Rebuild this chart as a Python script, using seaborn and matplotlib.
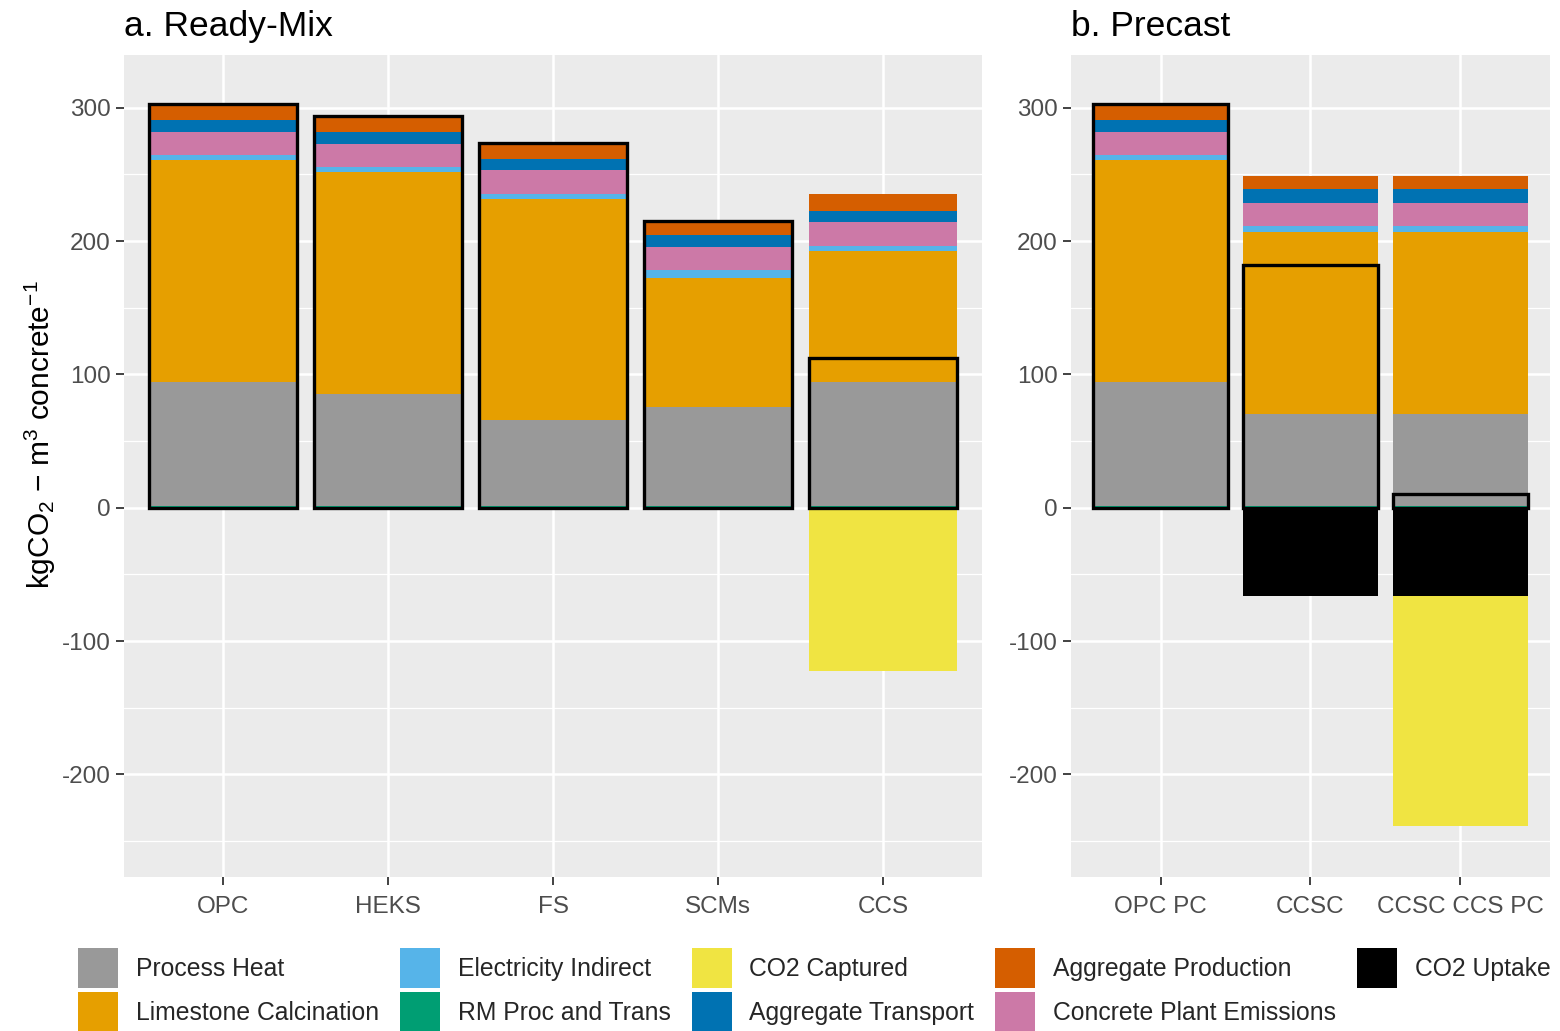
import matplotlib
matplotlib.use("Agg")
import matplotlib.pyplot as plt
from matplotlib.patches import Patch
from matplotlib.ticker import FixedLocator
import numpy as np
import pandas as pd
import seaborn as sns

# ---- scenarios -------------------------------------------------------------
ready_mix = ["OPC", "HEKS", "FS", "SCMs", "CCS"]
precast = ["OPC PC", "CCSC", "CCSC CCS PC"]

# ---- emission components (kgCO2 per m3 concrete) ---------------------------
rm_proc_trans_a = [1.5, 1.5, 1.5, 1.5, 1.5]
rm_proc_trans_b = [1.5, 1.5, 1.5]

process_heat_a = [93.0, 84.0, 64.0, 74.0, 93.0]
process_heat_b = [93.0, 68.5, 68.5]

limestone_calc_a = [166.0, 166.0, 166.0, 97.0, 98.0]
limestone_calc_b = [166.0, 137.0, 137.0]

electricity_a = [4.3, 4.0, 4.0, 5.7, 4.2]
electricity_b = [4.3, 4.2, 4.2]

concrete_plant_a = [17.0, 17.5, 17.5, 17.3, 17.3]
concrete_plant_b = [17.0, 17.3, 17.3]

agg_transport_a = [8.8, 8.5, 8.8, 9.0, 8.8]
agg_transport_b = [8.8, 10.3, 10.3]

agg_production_a = [12.0, 12.5, 12.0, 10.5, 12.7]
agg_production_b = [12.0, 10.0, 10.0]

co2_uptake_a = [0.0, 0.0, 0.0, 0.0, 0.0]
co2_uptake_b = [0.0, -66.5, -66.5]

co2_captured_a = [0.0, 0.0, 0.0, 0.0, -122.8]
co2_captured_b = [0.0, 0.0, -172.0]

# ---- palette ---------------------------------------------------------------
colors = {
    "Process Heat": "#999999",
    "Limestone Calcination": "#E69F00",
    "Electricity Indirect": "#56B4E9",
    "RM Proc and Trans": "#009E73",
    "CO2 Captured": "#F0E442",
    "Aggregate Transport": "#0072B2",
    "Aggregate Production": "#D55E00",
    "Concrete Plant Emissions": "#CC79A7",
    "CO2 Uptake": "#000000",
}

sns.set_theme(style="darkgrid")
plt.rcParams["font.family"] = ["Liberation Sans", "DejaVu Sans"]
plt.rcParams["mathtext.fontset"] = "custom"
plt.rcParams["mathtext.rm"] = "Liberation Sans"
plt.rcParams["mathtext.it"] = "Liberation Sans:italic"
plt.rcParams["mathtext.bf"] = "Liberation Sans:bold"
plt.rcParams["axes.unicode_minus"] = False

W, H = 1560, 1031
fig = plt.figure(figsize=(W / 100, H / 100), dpi=100)

ax_a = fig.add_axes([124 / W, 1 - 877 / H, 858 / W, 822.5 / H])
ax_b = fig.add_axes([1070.7 / W, 1 - 877 / H, 479.3 / W, 822.5 / H])


def build_frame(cats, rm, heat, lime, elec, plant, trans, prod, uptake, captured):
    return pd.DataFrame({
        "scenario": cats,
        "RM Proc and Trans": rm,
        "Process Heat": heat,
        "Limestone Calcination": lime,
        "Electricity Indirect": elec,
        "Concrete Plant Emissions": plant,
        "Aggregate Transport": trans,
        "Aggregate Production": prod,
        "CO2 Uptake": uptake,
        "CO2 Captured": captured,
    })


df_a = build_frame(ready_mix, rm_proc_trans_a, process_heat_a, limestone_calc_a,
                   electricity_a, concrete_plant_a, agg_transport_a,
                   agg_production_a, co2_uptake_a, co2_captured_a)
df_b = build_frame(precast, rm_proc_trans_b, process_heat_b, limestone_calc_b,
                   electricity_b, concrete_plant_b, agg_transport_b,
                   agg_production_b, co2_uptake_b, co2_captured_b)

pos_layers = ["RM Proc and Trans", "Process Heat", "Limestone Calcination",
              "Electricity Indirect", "Concrete Plant Emissions",
              "Aggregate Transport", "Aggregate Production"]
neg_layers = ["CO2 Uptake", "CO2 Captured"]


def draw_panel(ax, df, title, title_x):
    cats = list(df["scenario"])
    # stacked positive contributions: draw cumulative tops, largest first
    cum = df[pos_layers].cumsum(axis=1)
    for layer in reversed(pos_layers):
        sns.barplot(x=df["scenario"], y=cum[layer], order=cats,
                    color=colors[layer], saturation=1, width=0.9,
                    errorbar=None, linewidth=0, ax=ax)
    # stacked negative contributions below zero
    ncum = df[neg_layers].cumsum(axis=1)
    for layer in reversed(neg_layers):
        sns.barplot(x=df["scenario"], y=ncum[layer], order=cats,
                    color=colors[layer], saturation=1, width=0.9,
                    errorbar=None, linewidth=0, ax=ax)
    # net total outline
    net = df[pos_layers + neg_layers].sum(axis=1)
    sns.barplot(x=df["scenario"], y=net, order=cats, color="black",
                fill=False, width=0.9, errorbar=None, linewidth=2.4, ax=ax)

    n = len(cats)
    ax.set_xlim(-0.6, n - 0.4)
    ax.set_ylim(-277, 340)
    ax.set_facecolor("#EBEBEB")
    for s in ax.spines.values():
        s.set_visible(False)
    ax.yaxis.set_major_locator(FixedLocator([-200, -100, 0, 100, 200, 300]))
    ax.yaxis.set_minor_locator(FixedLocator([-250, -150, -50, 50, 150, 250]))
    ax.grid(which="major", axis="both", color="white", linewidth=1.8)
    ax.grid(which="minor", axis="y", color="white", linewidth=0.9)
    ax.grid(which="minor", axis="x", visible=False)
    ax.set_axisbelow(True)
    ax.tick_params(axis="both", which="major", bottom=True, left=True,
                   length=5.5, width=1.3, color="#333333",
                   labelcolor="#4D4D4D", labelsize=17.5, pad=4)
    ax.tick_params(axis="x", which="major", pad=8)
    ax.tick_params(which="minor", length=0)
    ax.set_xlabel("")
    ax.set_ylabel("")
    fig.text(title_x / W, 1 - 36 / H, title, fontsize=25.5, color="black",
             ha="left", va="baseline")


draw_panel(ax_a, df_a, "a. Ready-Mix", 124)
draw_panel(ax_b, df_b, "b. Precast", 1071)

fig.text(40 / W, 1 - 435 / H,
         r"kgCO$_2$ $-$ m$^3$ concrete$^{-1}$",
         rotation=90, fontsize=21.5, color="black", ha="center", va="center")

legend_order = ["Process Heat", "Limestone Calcination",
                "Electricity Indirect", "RM Proc and Trans",
                "CO2 Captured", "Aggregate Transport",
                "Aggregate Production", "Concrete Plant Emissions",
                "CO2 Uptake"]
handles = [Patch(facecolor=colors[k], edgecolor="none") for k in legend_order]
leg_fs = 17.8
fs_px = leg_fs * 100 / 72
key_px = 40
fig.legend(handles, legend_order, ncol=5, loc="upper left",
           bbox_to_anchor=(78 / W, 1 - 948 / H), frameon=False,
           fontsize=leg_fs, handlelength=key_px / fs_px,
           handleheight=(key_px / fs_px - 0.245) / 0.65,
           handletextpad=0.72, columnspacing=0.85, labelspacing=0.16,
           borderpad=0, borderaxespad=0)

fig.savefig("out.png", dpi=100)
